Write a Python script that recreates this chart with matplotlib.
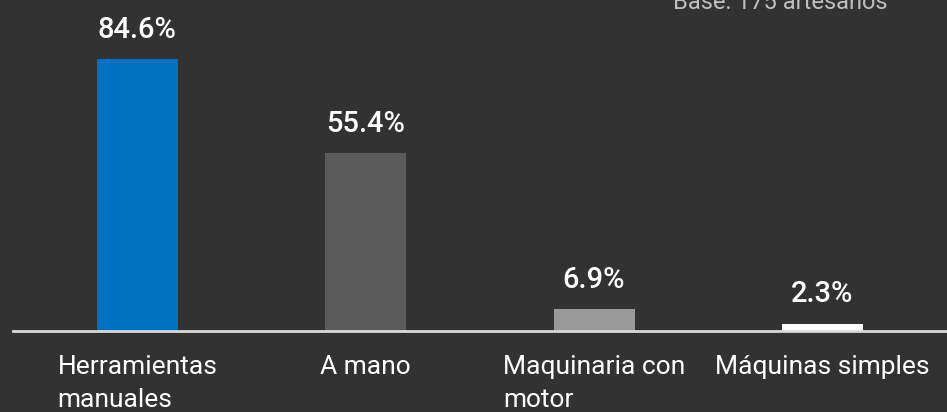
import matplotlib.pyplot as plt
import numpy as np

# data
categories = ['Herramientas\nmanuales', 'A mano', 'Maquinaria con\nmotor', 'Máquinas simples']
values = [84.6, 55.4, 6.9, 2.3]
value_labels = ['84.6%', '55.4%', '6.9%', '2.3%']
bar_colors = ['#0070C0', '#5B5B5B', '#999999', '#FFFFFF']
base_note = 'Base: 175 artesanos'

BG = '#323232'


def main():
    plt.rcParams['font.family'] = ['Roboto', 'DejaVu Sans']
    fig = plt.figure(figsize=(9.47, 4.12), dpi=100, facecolor=BG)
    ax = fig.add_axes([13 / 947, 81 / 412, 934 / 947, 331 / 412])
    ax.set_facecolor(BG)

    x = np.arange(len(categories))
    bars = ax.bar(x, values, width=0.355, color=bar_colors, zorder=2)

    for b, lab in zip(bars, value_labels):
        ax.annotate(lab, (b.get_x() + b.get_width() / 2, b.get_height()),
                    xytext=(0, 11), textcoords='offset points',
                    ha='center', va='bottom', color='white',
                    fontsize=21, fontweight='medium')

    ax.set_xlim(-0.545, 3.546)
    ax.set_ylim(0, 103)

    for s in ['top', 'right', 'left']:
        ax.spines[s].set_visible(False)
    ax.spines['bottom'].set_color('#D9D9D9')
    ax.spines['bottom'].set_linewidth(2)
    ax.set_yticks([])
    ax.set_xticks(x)
    ax.set_xticklabels(categories, color='white', fontsize=19,
                       multialignment='left', linespacing=1.5)
    ax.tick_params(axis='x', length=0, pad=17)

    fig.text(887 / 947, 1 - 9 / 412, base_note, ha='right', va='baseline',
             color='#BFBFBF', fontsize=17)

    fig.savefig('out.png', dpi=100, facecolor=BG)


if __name__ == "__main__":
    main()
